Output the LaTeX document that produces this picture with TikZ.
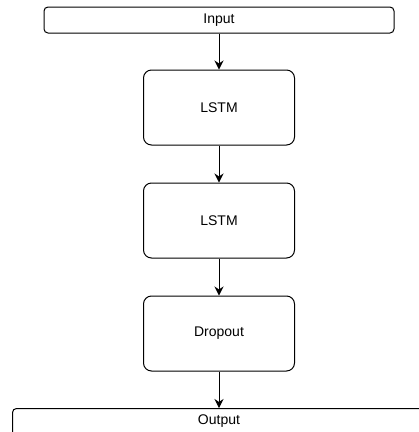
\documentclass[tikz,border=0pt]{standalone}
\usepackage{fontspec}
\setmainfont{Liberation Sans}
\usetikzlibrary{arrows.meta}
\tikzset{
  layer/.style={draw, rounded corners=8pt, line width=1pt, minimum width=151pt, minimum height=75pt, font=\fontsize{14}{16}\selectfont},
  iobox/.style={draw, rounded corners=4pt, line width=1pt, minimum height=26pt, font=\fontsize{14}{16}\selectfont},
  link/.style={-{Stealth[length=9pt,width=9pt]}, line width=1pt}
}

\begin{document}
\begin{tikzpicture}[x=1pt, y=-1pt]

  \useasboundingbox (0, 0) rectangle (419, 432);
  \clip (0, 0) rectangle (419, 432);

  \node[iobox, minimum width=350pt] (input) at (219, 20) {Input};
  \node[layer] (lstm1) at (219, 107.5) {LSTM};
  \node[layer] (lstm2) at (219, 220.5) {LSTM};
  \node[layer] (drop) at (219, 333.5) {Dropout};
  \node[iobox, minimum width=420pt, minimum height=30pt, anchor=north west] (output) at (12, 408) {};
  \node[font=\fontsize{14}{16}\selectfont] (outlabel) at (219, 421) {Output};

  \draw[link] (input) -- (lstm1);
  \draw[link] (lstm1) -- (lstm2);
  \draw[link] (lstm2) -- (drop);
  \draw[link] (drop) -- (drop |- output.north);

\end{tikzpicture}
\end{document}
